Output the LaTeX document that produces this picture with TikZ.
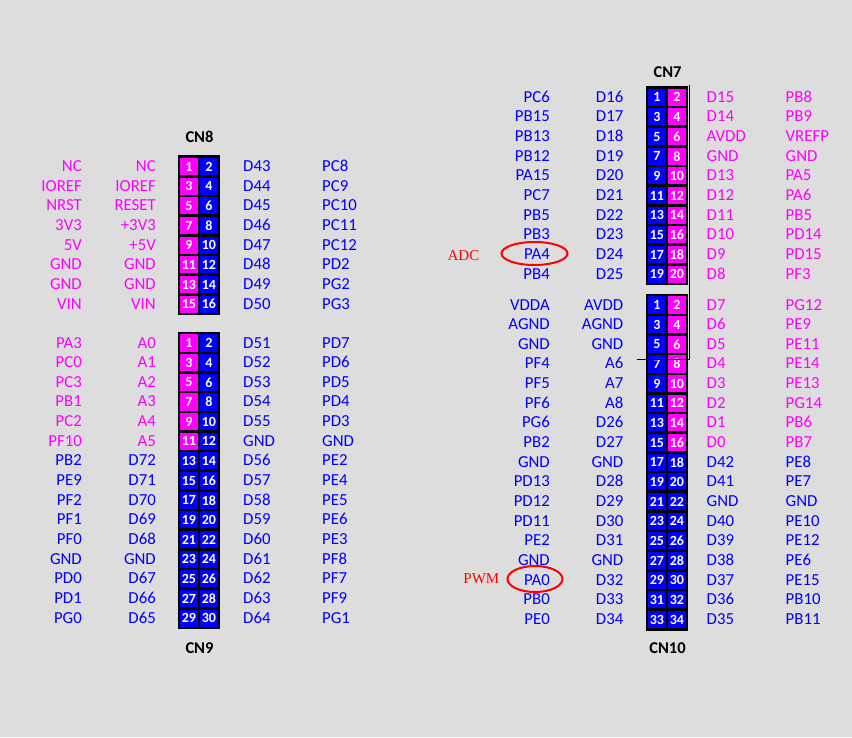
\documentclass[tikz,border=0pt]{standalone}
\usepackage{fontspec}
\setmainfont{Carlito}
\newfontfamily\tagfont{Liberation Serif}
\usetikzlibrary{positioning}
\usetikzlibrary{shapes.geometric}
\definecolor{pagebg}{HTML}{DDDDDD}
\definecolor{pinmag}{HTML}{FF00FF}
\definecolor{pinblue}{HTML}{0000FF}
\def\rowpitch{19.66}
\tikzset{
pinbox/.style={draw=black, line width=2.6pt, minimum width=20pt, minimum height=\rowpitch pt, inner sep=0pt,
	text=white, font=\fontsize{14}{14}\selectfont\bfseries},
pinlabel/.style={inner sep=0pt, font=\fontsize{16.8}{18}\selectfont},
portname/.style={font=\fontsize{16.5}{18}\selectfont\bfseries, inner sep=0pt},
redtag/.style={text=red, inner sep=0pt, font=\tagfont\fontsize{15}{16}\selectfont},
hilite/.style={draw=red, ellipse, line width=2pt, inner sep=0pt},
}
% name, x of odd pin, y of first row, x of the four label columns, rows
\newcommand{\pinrows}[8]{
\foreach \aa/\bb/\cc/\dd/\ca/\cb [count=\i] in {#8} {
	\pgfmathtruncatemacro{\odd}{2*\i-1}
	\pgfmathtruncatemacro{\even}{2*\i}
	\pgfmathsetmacro{\rowy}{#3+(\i-1)*\rowpitch}
	\node[pinbox, fill=\ca] (#1p\odd) at (#2,\rowy) {\odd};
	\node[pinbox, fill=\cb] (#1p\even) at (#2+20,\rowy) {\even};
	\node[pinlabel, text=\ca, anchor=base east] (#1a\i) at (#4,\rowy+5) {\aa};
	\node[pinlabel, text=\ca, anchor=base east] (#1b\i) at (#5,\rowy+5) {\bb};
	\node[pinlabel, text=\cb, anchor=base west] (#1c\i) at (#6,\rowy+5) {\cc};
	\node[pinlabel, text=\cb, anchor=base west] (#1d\i) at (#7,\rowy+5) {\dd};
}
}
\begin{document}
\begin{tikzpicture}[x=1pt, y=-1pt]
\useasboundingbox[fill=pagebg] (0,0) rectangle (852,737);

\pinrows{cnE}{188.9}{166.5}{82}{156}{243}{322}{
	NC/NC/D43/PC8/pinmag/pinblue,
	IOREF/IOREF/D44/PC9/pinmag/pinblue,
	NRST/RESET/D45/PC10/pinmag/pinblue,
	3V3/+3V3/D46/PC11/pinmag/pinblue,
	5V/+5V/D47/PC12/pinmag/pinblue,
	GND/GND/D48/PD2/pinmag/pinblue,
	GND/GND/D49/PG2/pinmag/pinblue,
	VIN/VIN/D50/PG3/pinmag/pinblue}

\pinrows{cnN}{188.9}{343}{82}{156}{243}{322}{
	PA3/A0/D51/PD7/pinmag/pinblue,
	PC0/A1/D52/PD6/pinmag/pinblue,
	PC3/A2/D53/PD5/pinmag/pinblue,
	PB1/A3/D54/PD4/pinmag/pinblue,
	PC2/A4/D55/PD3/pinmag/pinblue,
	PF10/A5/GND/GND/pinmag/pinblue,
	PB2/D72/D56/PE2/pinblue/pinblue,
	PE9/D71/D57/PE4/pinblue/pinblue,
	PF2/D70/D58/PE5/pinblue/pinblue,
	PF1/D69/D59/PE6/pinblue/pinblue,
	PF0/D68/D60/PE3/pinblue/pinblue,
	GND/GND/D61/PF8/pinblue/pinblue,
	PD0/D67/D62/PF7/pinblue/pinblue,
	PD1/D66/D63/PF9/pinblue/pinblue,
	PG0/D65/D64/PG1/pinblue/pinblue}

\pinrows{cnS}{656.9}{97.3}{550}{623.5}{706.5}{785.5}{
	PC6/D16/D15/PB8/pinblue/pinmag,
	PB15/D17/D14/PB9/pinblue/pinmag,
	PB13/D18/AVDD/VREFP/pinblue/pinmag,
	PB12/D19/GND/GND/pinblue/pinmag,
	PA15/D20/D13/PA5/pinblue/pinmag,
	PC7/D21/D12/PA6/pinblue/pinmag,
	PB5/D22/D11/PB5/pinblue/pinmag,
	PB3/D23/D10/PD14/pinblue/pinmag,
	PA4/D24/D9/PD15/pinblue/pinmag,
	PB4/D25/D8/PF3/pinblue/pinmag}

\pinrows{cnT}{656.9}{305}{550}{623.5}{706.5}{785.5}{
	VDDA/AVDD/D7/PG12/pinblue/pinmag,
	AGND/AGND/D6/PE9/pinblue/pinmag,
	GND/GND/D5/PE11/pinblue/pinmag,
	PF4/A6/D4/PE14/pinblue/pinmag,
	PF5/A7/D3/PE13/pinblue/pinmag,
	PF6/A8/D2/PG14/pinblue/pinmag,
	PG6/D26/D1/PB6/pinblue/pinmag,
	PB2/D27/D0/PB7/pinblue/pinmag,
	GND/GND/D42/PE8/pinblue/pinblue,
	PD13/D28/D41/PE7/pinblue/pinblue,
	PD12/D29/GND/GND/pinblue/pinblue,
	PD11/D30/D40/PE10/pinblue/pinblue,
	PE2/D31/D39/PE12/pinblue/pinblue,
	GND/GND/D38/PE6/pinblue/pinblue,
	PA0/D32/D37/PE15/pinblue/pinblue,
	PB0/D33/D36/PB10/pinblue/pinblue,
	PE0/D34/D35/PB11/pinblue/pinblue}

\node[portname] (cn8) at (199.5,137) {CN8};
\node[portname] (cn9) at (199.5,648) {CN9};
\node[portname] (cn7) at (667.5,72) {CN7};
\node[portname] (cn10) at (667.5,648) {CN10};

\node[hilite, minimum width=66pt, minimum height=23pt] (adc) at (534.5,253.5) {};
\node[hilite, minimum width=55pt, minimum height=26pt] (pwm) at (535,579) {};
\node[redtag, left=21pt of adc, yshift=-2pt] (adctag) {ADC};
\node[redtag, left=7pt of pwm] (pwmtag) {PWM};

\coordinate (railtop) at (689.5,85);
\coordinate (railend) at (689.5,359.5);
\coordinate (railtip) at (637,359.5);
\draw[black, line width=0.9pt] (railtop) -- (railend) -- (railtip);
\end{tikzpicture}
\end{document}
